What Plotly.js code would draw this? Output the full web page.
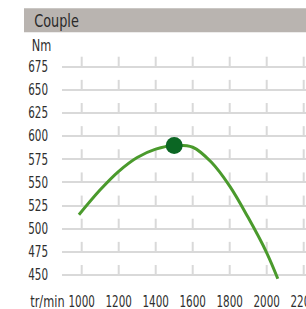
<!DOCTYPE html>
<html>
<head>
<meta charset="utf-8">
<script src="https://cdn.plot.ly/plotly-3.0.1.min.js"></script>
<style>
html,body{margin:0;padding:0;overflow:hidden;background:#fff;width:306px;height:309px;}
#chart{width:340px;height:309px;}
</style>
</head>
<body>
<div id="chart"></div>
<script>
// ---- data ----
const rpm = [985, 1100, 1200, 1300, 1400, 1500, 1600, 1700, 1800, 1900, 2000, 2060];
const torque = [515, 542, 562, 577, 586, 590, 588, 572, 546, 512, 474, 446];
const peakRpm = [1500];
const peakTorque = [590];
const xTicks = [1000, 1200, 1400, 1600, 1800, 2000, 2200];
const yTicks = [450, 475, 500, 525, 550, 575, 600, 625, 650, 675];
const chartTitle = "Couple";
const yUnit = "Nm";
const xUnit = "tr/min";

// ---- layout helpers ----
const W = 340, H = 309;
const mL = 62, mR = 0, mT = 55, mB = 27;
const plotW = W - mL - mR, plotH = H - mT - mB;
const px = p => (p - mL) / plotW;
const py = p => (H - mB - p) / plotH;
const FONT = "DejaVu Sans Condensed, DejaVu Sans, sans-serif";
const TXT = "#2f2f2f";
const GRID = "#d9d9d9";

const tickLenNm = 10.8;
const shapes = [{
  type: "rect", xref: "paper", yref: "paper",
  x0: px(24), x1: px(W + 10), y0: py(32.3), y1: py(8.3),
  fillcolor: "#b9b4b0", line: {width: 0}, layer: "below"
}];
xTicks.forEach(x => yTicks.forEach(y => {
  shapes.push({type: "line", xref: "x", yref: "y", x0: x, x1: x, y0: y, y1: y + tickLenNm,
    line: {color: GRID, width: 2}, layer: "below"});
}));

const traces = [
  {x: rpm, y: torque, type: "scatter", mode: "lines",
   line: {color: "#4a9a2c", width: 3, shape: "spline", smoothing: 1}, hoverinfo: "skip"},
  {x: peakRpm, y: peakTorque, type: "scatter", mode: "markers",
   marker: {color: "#0b6623", size: 17}, hoverinfo: "skip"}
];

const layout = {
  width: W, height: H,
  margin: {l: mL, r: mR, t: mT, b: mB, pad: 0},
  paper_bgcolor: "#ffffff", plot_bgcolor: "#ffffff",
  showlegend: false,
  font: {family: FONT, size: 15, color: TXT},
  xaxis: {
    range: [893.5, 893.5 + plotW * 200 / 37],
    tickvals: xTicks, ticktext: xTicks.map(String),
    showgrid: false, zeroline: false, showline: false,
    ticks: "outside", ticklen: 6, tickcolor: "rgba(0,0,0,0)",
    ticklabeloverflow: "allow",
    tickfont: {family: FONT, size: 15, color: TXT}
  },
  yaxis: {
    range: [450 - 7 * 25 / 23.14, 675 + 11.7 * 25 / 23.14],
    tickvals: yTicks, ticktext: yTicks.map(String),
    showgrid: true, gridcolor: GRID, gridwidth: 2,
    zeroline: false, showline: false,
    ticks: "outside", ticklen: 10, tickcolor: "rgba(0,0,0,0)",
    tickfont: {family: FONT, size: 15, color: TXT}
  },
  shapes: shapes,
  annotations: [
    {text: chartTitle, xref: "paper", yref: "paper", x: px(28), y: py(21),
     xanchor: "left", yanchor: "middle", showarrow: false,
     font: {family: FONT, size: 17, color: "#2a2a2a"}},
    {text: yUnit, xref: "paper", yref: "paper", x: px(28), y: py(46),
     xanchor: "left", yanchor: "middle", showarrow: false,
     font: {family: FONT, size: 15, color: TXT}},
    {text: xUnit, xref: "paper", yref: "paper", x: px(25), y: py(302),
     xanchor: "left", yanchor: "middle", showarrow: false,
     font: {family: FONT, size: 15, color: TXT}}
  ]
};

function condense(gd) {
  const squeeze = (sel, k) => gd.querySelectorAll(sel).forEach(t => {
    const L = t.getComputedTextLength();
    if (L > 0) {
      t.setAttribute("textLength", (L * k).toFixed(2));
      t.setAttribute("lengthAdjust", "spacingAndGlyphs");
    }
  });
  squeeze("g.xtick text, g.ytick text", 0.77);
  squeeze("text.annotation-text", 0.84);
}

Plotly.newPlot("chart", traces, layout, {displayModeBar: false, staticPlot: true})
  .then(gd => condense(gd));
</script>
</body>
</html>
